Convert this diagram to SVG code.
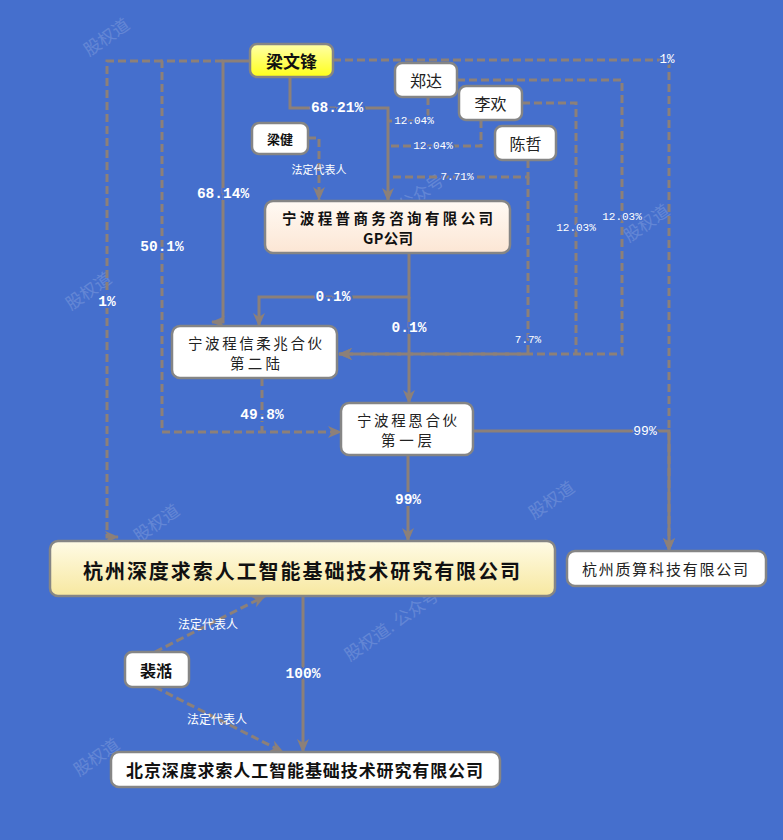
<svg xmlns="http://www.w3.org/2000/svg" width="783" height="840" viewBox="0 0 783 840">
<defs>
<linearGradient id="gY" x1="0" y1="0" x2="0" y2="1"><stop offset="0" stop-color="#ffffa8"/><stop offset="1" stop-color="#ffff1a"/></linearGradient>
<linearGradient id="gGP" x1="0" y1="0" x2="0" y2="1"><stop offset="0" stop-color="#fffaf4"/><stop offset="1" stop-color="#fce6d4"/></linearGradient>
<linearGradient id="gHZ" x1="0" y1="0" x2="0" y2="1"><stop offset="0" stop-color="#fffbe6"/><stop offset="1" stop-color="#f7e8a0"/></linearGradient>
<marker id="ar" markerUnits="userSpaceOnUse" markerWidth="14" markerHeight="12" viewBox="0 0 14 12" refX="13" refY="6" orient="auto"><path d="M0,0 L14,6 L0,12 L4,6 z" fill="#8c8079"/></marker>
<style>
.bg{fill:#456fcd}
.wm{font-family:"Noto Sans CJK SC",sans-serif;font-size:17px;fill:#ffffff;opacity:0.16}
.ln{fill:none;stroke:#8c8079;stroke-width:3}
.ds{stroke-dasharray:8 4}
.nd{stroke:#858585;stroke-width:2.5}
.w{fill:#ffffff}
.t{font-family:"Noto Sans CJK SC",sans-serif;fill:#222;text-anchor:middle;dominant-baseline:central}
.b{font-weight:bold;fill:#111}
.pb{font-family:"Liberation Mono",monospace;font-weight:bold;font-size:14.5px;fill:#fff;text-anchor:middle;dominant-baseline:central;stroke:#456fcd;stroke-width:4;paint-order:stroke}
.pn{font-family:"Liberation Mono",monospace;font-size:11px;fill:#fff;text-anchor:middle;dominant-baseline:central;stroke:#456fcd;stroke-width:3;paint-order:stroke}
.lr{font-family:"Noto Sans CJK SC",sans-serif;font-size:11px;fill:#fff;text-anchor:middle;dominant-baseline:central}
</style>
</defs>
<rect class="bg" x="0" y="0" width="783" height="840"/>
<g id="watermarks">
<text class="wm" transform="translate(110,42) rotate(-35)" text-anchor="middle">股权道</text>
<text class="wm" transform="translate(92,296) rotate(-35)" text-anchor="middle">股权道</text>
<text class="wm" transform="translate(650,228) rotate(-35)" text-anchor="middle">股权道</text>
<text class="wm" transform="translate(555,505) rotate(-35)" text-anchor="middle">股权道</text>
<text class="wm" transform="translate(160,528) rotate(-35)" text-anchor="middle">股权道</text>
<text class="wm" transform="translate(395,630) rotate(-35)" text-anchor="middle">股权道. 公众号</text>
<text class="wm" transform="translate(400,215) rotate(-35)" text-anchor="middle">股权道. 公众号</text>
<text class="wm" transform="translate(100,762) rotate(-35)" text-anchor="middle">股权道</text>
</g>
<g id="connectors">
<path class="ln" d="M290,77 V108 H388 V201" marker-end="url(#ar)"/>
<path class="ln ds" d="M428,97 V121 H388"/>
<path class="ln ds" d="M481,120 V146 H388"/>
<path class="ln ds" d="M528,160 V177 H388"/>
<path class="ln ds" d="M528,177 V354 H339" marker-end="url(#ar)"/>
<path class="ln ds" d="M522,103 H576 V354"/>
<path class="ln ds" d="M457,80 H622 V354 H339" marker-end="url(#ar)"/>
<path class="ln ds" d="M333,60 H669 V551" marker-end="url(#ar)"/>
<path class="ln" d="M473,431 H669 V551" marker-end="url(#ar)"/>
<path class="ln" d="M250,61 H223 V322 H212" marker-end="url(#ar)"/>
<path class="ln ds" d="M223,61 H162 V432 H341" marker-end="url(#ar)"/>
<path class="ln ds" d="M162,61 H107 V537 H118" marker-end="url(#ar)"/>
<path class="ln ds" d="M262,378 V432"/>
<path class="ln ds" d="M308,138 H319 V200" marker-end="url(#ar)"/>
<path class="ln" d="M409,253 V297 H259 V326" marker-end="url(#ar)"/>
<path class="ln" d="M409,297 V403" marker-end="url(#ar)"/>
<path class="ln" d="M408,455 V541" marker-end="url(#ar)"/>
<path class="ln" d="M303,596 V752" marker-end="url(#ar)"/>
<path class="ln ds" d="M155,652 L265,596" marker-end="url(#ar)"/>
<path class="ln ds" d="M155,687 L283,752" marker-end="url(#ar)"/>
<text class="pb" x="337" y="108">68.21%</text>
<text class="pn" x="414" y="121">12.04%</text>
<text class="pn" x="433" y="146">12.04%</text>
<text class="pn" x="457" y="177">7.71%</text>
<text class="pn" x="528" y="340">7.7%</text>
<text class="pn" x="576" y="228">12.03%</text>
<text class="pn" x="622" y="217">12.03%</text>
<text class="pn" x="667" y="60" style="font-size:12.5px">1%</text>
<text class="pn" x="645" y="431" style="font-size:13px">99%</text>
<text class="pb" x="223" y="194">68.14%</text>
<text class="pb" x="162" y="247">50.1%</text>
<text class="pb" x="107" y="302">1%</text>
<text class="pb" x="262" y="415">49.8%</text>
<text class="lr" x="319" y="169">法定代表人</text>
<text class="pb" x="333" y="297">0.1%</text>
<text class="pb" x="409" y="328">0.1%</text>
<text class="pb" x="408" y="500">99%</text>
<text class="pb" x="303" y="674">100%</text>
<text class="lr" x="208" y="623" style="font-size:12px">法定代表人</text>
<text class="lr" x="217" y="718" style="font-size:12px">法定代表人</text>
</g>
<g id="n-liangwenfeng"><rect class="nd" x="250" y="44" width="83" height="33" rx="7" fill="url(#gY)"/><text class="t b" x="291.5" y="60.5" font-size="17">梁文锋</text></g>
<g id="n-zhengda"><rect class="nd w" x="395" y="63" width="62" height="34" rx="7"/><text class="t" x="426" y="80" font-size="16">郑达</text></g>
<g id="n-lihuan"><rect class="nd w" x="459" y="86" width="63" height="34" rx="7"/><text class="t" x="490.5" y="103" font-size="16">李欢</text></g>
<g id="n-chenzhe"><rect class="nd w" x="495" y="126" width="61" height="34" rx="7"/><text class="t" x="525.5" y="143" font-size="16">陈哲</text></g>
<g id="n-liangjian"><rect class="nd w" x="252" y="123" width="56" height="31" rx="7"/><text class="t b" x="280" y="138.5" font-size="13">梁健</text></g>
<g id="n-gp"><rect class="nd" x="265" y="201" width="245" height="52" rx="8" fill="url(#gGP)"/><text class="t b" x="387.5" y="217" font-size="14.5" textLength="211" lengthAdjust="spacing">宁波程普商务咨询有限公司</text><text class="t b" x="388" y="237" font-size="14.5" textLength="50" lengthAdjust="spacing">GP公司</text></g>
<g id="n-chengxin"><rect class="nd w" x="172" y="326" width="165" height="52" rx="8"/><text class="t" x="255" y="342" font-size="14.5" textLength="134" lengthAdjust="spacing">宁波程信柔兆合伙</text><text class="t" x="255" y="362" font-size="14.5" textLength="50" lengthAdjust="spacing">第二陆</text></g>
<g id="n-chengen"><rect class="nd w" x="341" y="403" width="132" height="52" rx="8"/><text class="t" x="407" y="419" font-size="14.5" textLength="100" lengthAdjust="spacing">宁波程恩合伙</text><text class="t" x="406.5" y="439" font-size="14.5" textLength="51" lengthAdjust="spacing">第一层</text></g>
<g id="n-hangzhou-ds"><rect class="nd" x="50" y="541" width="505" height="55" rx="8" fill="url(#gHZ)"/><text class="t b" x="301.5" y="570" font-size="20" textLength="437" lengthAdjust="spacing">杭州深度求索人工智能基础技术研究有限公司</text></g>
<g id="n-zhisuan"><rect class="nd w" x="567" y="551" width="199" height="35" rx="8"/><text class="t" x="665" y="568.5" font-size="15" textLength="166" lengthAdjust="spacing">杭州质算科技有限公司</text></g>
<g id="n-peitian"><rect class="nd w" x="125" y="652" width="64" height="35" rx="7"/><text class="t b" x="156" y="669.5" font-size="16">裴湉</text></g>
<g id="n-beijing-ds"><rect class="nd w" x="111" y="752" width="389" height="35" rx="8"/><text class="t b" x="304.5" y="769.5" font-size="17" textLength="357" lengthAdjust="spacing">北京深度求索人工智能基础技术研究有限公司</text></g>
</svg>
